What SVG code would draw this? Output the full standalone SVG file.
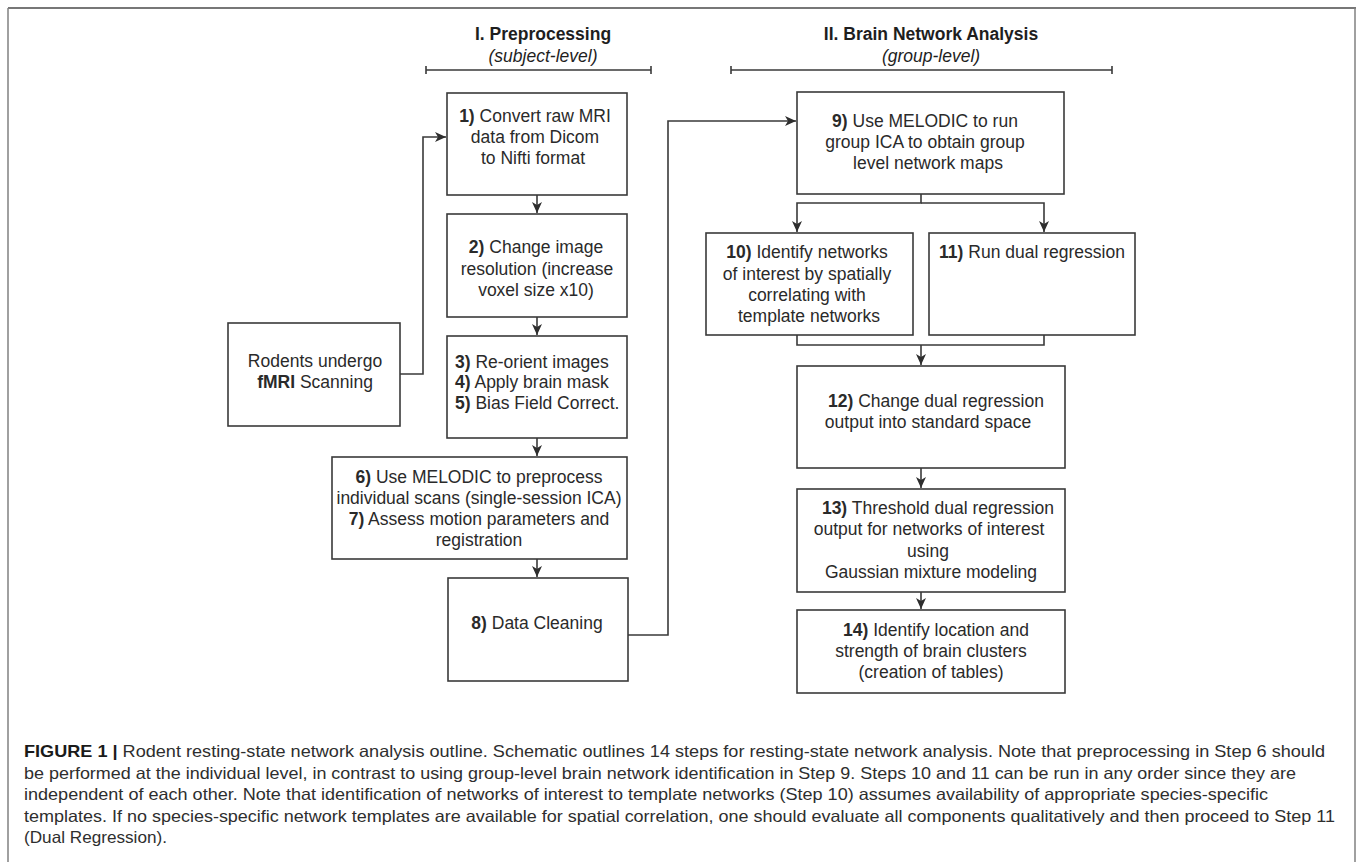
<svg xmlns="http://www.w3.org/2000/svg" width="1358" height="862" viewBox="0 0 1358 862">
<style>
  .box { fill: #ffffff; stroke: #3a3a3a; stroke-width: 1.6; }
  .t { font-family: "Liberation Sans", Arial, sans-serif; font-size: 17.5px; fill: #2a2a2a; }
  .c { text-anchor: middle; }
  .b { font-weight: bold; }
  .h { font-family: "Liberation Sans", Arial, sans-serif; font-size: 17.5px; fill: #1e1e1e; text-anchor: middle; }
  .conn { fill: none; stroke: #3a3a3a; stroke-width: 1.6; }
  .brk { fill: none; stroke: #3a3a3a; stroke-width: 1.6; }
  .cap { font-family: "Liberation Sans", Arial, sans-serif; font-size: 16.5px; fill: #2e2e2e; }
</style>
<defs>
  <marker id="arr" markerUnits="userSpaceOnUse" markerWidth="12" markerHeight="10" refX="11" refY="5" orient="auto">
    <path d="M0,0 L11,5 L0,10 L3,5 z" fill="#2e2e2e"/>
  </marker>
</defs>
<rect x="0" y="0" width="1358" height="862" fill="#ffffff"/>
<g id="frame">
  <line x1="8" y1="8" x2="1356" y2="8" stroke="#4a4a4a" stroke-width="1.5"/>
  <line x1="8" y1="8" x2="8" y2="862" stroke="#808080" stroke-width="1.5"/>
  <line x1="1355" y1="8" x2="1355" y2="862" stroke="#808080" stroke-width="1.5"/>
</g>
<g id="header-1">
  <text class="h b" x="543" y="40">I. Preprocessing</text>
  <text class="h" x="543" y="62" font-style="italic">(subject-level)</text>
  <path class="brk" d="M426,70 H651 M426,66 V74 M651,66 V74"/>
</g>
<g id="header-2">
  <text class="h b" x="931" y="40">II. Brain Network Analysis</text>
  <text class="h" x="931" y="62" font-style="italic">(group-level)</text>
  <path class="brk" d="M731,70 H1112 M731,66 V74 M1112,66 V74"/>
</g>
<g id="connectors">
  <path class="conn" d="M400,374 H423 V137 H446" marker-end="url(#arr)"/>
  <path class="conn" d="M537,195 V213" marker-end="url(#arr)"/>
  <path class="conn" d="M537,317 V335" marker-end="url(#arr)"/>
  <path class="conn" d="M537,438 V456" marker-end="url(#arr)"/>
  <path class="conn" d="M537,559 V577" marker-end="url(#arr)"/>
  <path class="conn" d="M628,635 H668 V121 H796" marker-end="url(#arr)"/>
  <path class="conn" d="M921,194 V203 H797 V232" marker-end="url(#arr)"/>
  <path class="conn" d="M921,203 H1044 V232" marker-end="url(#arr)"/>
  <path class="conn" d="M797,335 V345 H1044 V335"/>
  <path class="conn" d="M921,345 V365" marker-end="url(#arr)"/>
  <path class="conn" d="M921,468 V488" marker-end="url(#arr)"/>
  <path class="conn" d="M921,592 V609" marker-end="url(#arr)"/>
</g>
<g id="node-rodents">
  <rect class="box" x="228" y="323" width="172" height="103"/>
  <text class="t c" x="315" y="367">Rodents undergo</text>
  <text class="t c" x="315" y="388"><tspan class="b">fMRI</tspan> Scanning</text>
</g>
<g id="node-1">
  <rect class="box" x="447" y="93" width="180" height="102"/>
  <text class="t c" x="535" y="122"><tspan class="b">1)</tspan> Convert raw MRI</text>
  <text class="t c" x="535" y="143">data from Dicom</text>
  <text class="t c" x="533" y="164">to Nifti format</text>
</g>
<g id="node-2">
  <rect class="box" x="447" y="214" width="180" height="103"/>
  <text class="t c" x="536" y="253"><tspan class="b">2)</tspan> Change image</text>
  <text class="t c" x="537" y="275">resolution (increase</text>
  <text class="t c" x="536" y="296">voxel size x10)</text>
</g>
<g id="node-3">
  <rect class="box" x="447" y="336" width="180" height="102"/>
  <text class="t" x="455" y="368"><tspan class="b">3)</tspan> Re-orient images</text>
  <text class="t" x="455" y="388"><tspan class="b">4)</tspan> Apply brain mask</text>
  <text class="t" x="455" y="409"><tspan class="b">5)</tspan> Bias Field Correct.</text>
</g>
<g id="node-6">
  <rect class="box" x="332" y="457" width="295" height="102"/>
  <text class="t c" x="479" y="483"><tspan class="b">6)</tspan> Use MELODIC to preprocess</text>
  <text class="t c" x="479" y="504">individual scans (single-session ICA)</text>
  <text class="t c" x="479" y="525"><tspan class="b">7)</tspan> Assess motion parameters and</text>
  <text class="t c" x="479" y="546">registration</text>
</g>
<g id="node-8">
  <rect class="box" x="448" y="578" width="180" height="103"/>
  <text class="t c" x="537" y="629"><tspan class="b">8)</tspan> Data Cleaning</text>
</g>
<g id="node-9">
  <rect class="box" x="797" y="92" width="267" height="102"/>
  <text class="t c" x="925" y="127"><tspan class="b">9)</tspan> Use MELODIC to run</text>
  <text class="t c" x="925" y="148">group ICA to obtain group</text>
  <text class="t c" x="928" y="169">level network maps</text>
</g>
<g id="node-10">
  <rect class="box" x="706" y="233" width="207" height="102"/>
  <text class="t c" x="807" y="258"><tspan class="b">10)</tspan> Identify networks</text>
  <text class="t c" x="807" y="280">of interest by spatially</text>
  <text class="t c" x="807" y="301">correlating with</text>
  <text class="t c" x="809" y="322">template networks</text>
</g>
<g id="node-11">
  <rect class="box" x="929" y="233" width="206" height="102"/>
  <text class="t c" x="1032" y="258"><tspan class="b">11)</tspan> Run dual regression</text>
</g>
<g id="node-12">
  <rect class="box" x="797" y="366" width="268" height="102"/>
  <text class="t c" x="936" y="407"><tspan class="b">12)</tspan> Change dual regression</text>
  <text class="t c" x="928" y="428">output into standard space</text>
</g>
<g id="node-13">
  <rect class="box" x="797" y="489" width="268" height="103"/>
  <text class="t c" x="938" y="514"><tspan class="b">13)</tspan> Threshold dual regression</text>
  <text class="t c" x="929" y="535">output for networks of interest</text>
  <text class="t c" x="928" y="557">using</text>
  <text class="t c" x="931" y="578">Gaussian mixture modeling</text>
</g>
<g id="node-14">
  <rect class="box" x="797" y="610" width="268" height="83"/>
  <text class="t c" x="936" y="636"><tspan class="b">14)</tspan> Identify location and</text>
  <text class="t c" x="931" y="657">strength of brain clusters</text>
  <text class="t c" x="931" y="678">(creation of tables)</text>
</g>
<g id="caption">
  <text class="cap" x="24" y="757" textLength="1301" lengthAdjust="spacingAndGlyphs"><tspan font-weight="bold" fill="#1a1a1a">FIGURE 1 |</tspan> Rodent resting-state network analysis outline. Schematic outlines 14 steps for resting-state network analysis. Note that preprocessing in Step 6 should</text>
  <text class="cap" x="24" y="778.5" textLength="1272" lengthAdjust="spacingAndGlyphs">be performed at the individual level, in contrast to using group-level brain network identification in Step 9. Steps 10 and 11 can be run in any order since they are</text>
  <text class="cap" x="24" y="800" textLength="1244" lengthAdjust="spacingAndGlyphs">independent of each other. Note that identification of networks of interest to template networks (Step 10) assumes availability of appropriate species-specific</text>
  <text class="cap" x="24" y="821.5" textLength="1311" lengthAdjust="spacingAndGlyphs">templates. If no species-specific network templates are available for spatial correlation, one should evaluate all components qualitatively and then proceed to Step 11</text>
  <text class="cap" x="24" y="843" textLength="143" lengthAdjust="spacingAndGlyphs">(Dual Regression).</text>
</g>
</svg>
